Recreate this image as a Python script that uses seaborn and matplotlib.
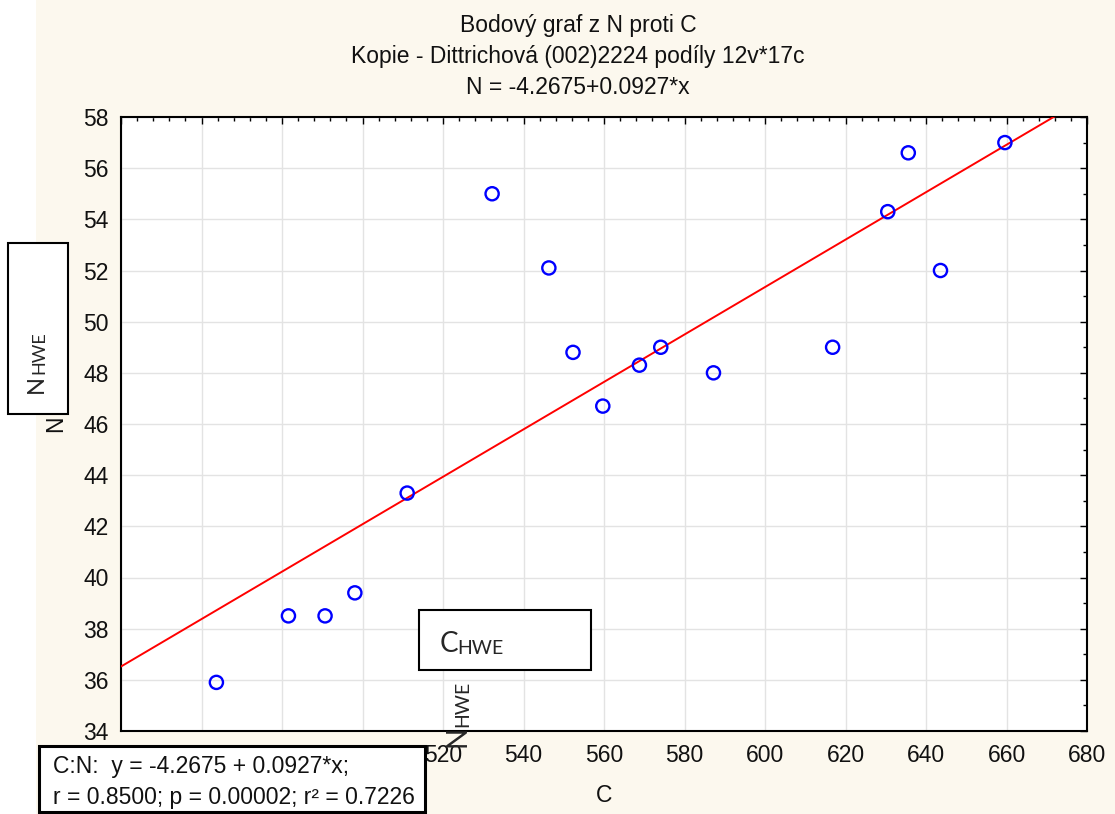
import numpy as np
import matplotlib.pyplot as plt
from matplotlib.patches import Rectangle
from matplotlib.ticker import MultipleLocator
import seaborn as sns

# ----------------------------------------------------------------------
# data (C vs N, 17 cases)
# ----------------------------------------------------------------------
c_vals = [463.7, 481.6, 490.7, 498.1, 511.1, 532.2, 546.3, 552.3, 559.7,
          568.8, 574.1, 587.2, 616.8, 630.5, 635.6, 643.6, 659.6]
n_vals = [35.9, 38.5, 38.5, 39.4, 43.3, 55.0, 52.1, 48.8, 46.7,
          48.3, 49.0, 48.0, 49.0, 54.3, 56.6, 52.0, 57.0]

intercept = -4.2675
slope = 0.0927

x_range = [440, 680]
y_range = [34, 58]
# x tick labels that sit completely under the stats box in the original
hidden_xlabels = [440, 460, 480, 500]

title_lines = ["Bodový graf z N proti C",
               "Kopie - Dittrichová (002)2224 podíly 12v*17c",
               "N = -4.2675+0.0927*x"]
stats_lines = ["C:N:  y = -4.2675 + 0.0927*x;",
               "r = 0.8500; p = 0.00002; r² = 0.7226"]

# ----------------------------------------------------------------------
# figure setup
# ----------------------------------------------------------------------
sns.set_theme(style="whitegrid")
plt.rcParams['font.family'] = ['Liberation Sans', 'DejaVu Sans']

W, H = 1115, 814
fig = plt.figure(figsize=(W / 100, H / 100), dpi=100, facecolor='white')


def fx(x):
    return x / W


def fy(y):
    return 1 - y / H


FS = 16.5
bg = '#FCF8EE'
fig.patches.append(Rectangle((fx(36), 0), 1 - fx(36), 1, transform=fig.transFigure,
                             facecolor=bg, edgecolor='none', zorder=-10))

ax = fig.add_axes([fx(121), fy(731), (1087 - 121) / W, (731 - 117) / H])
ax.set_facecolor('white')

sns.scatterplot(x=c_vals, y=n_vals, ax=ax, marker='o', s=90,
                fc='none', ec='#0000FF', linewidth=1.7, zorder=4)

x_line = np.array(x_range, dtype=float)
sns.lineplot(x=x_line, y=intercept + slope * x_line, ax=ax,
             color='#FF0000', linewidth=1.4, zorder=3)

ax.set_xlim(*x_range)
ax.set_ylim(*y_range)
ax.xaxis.set_major_locator(MultipleLocator(20))
ax.xaxis.set_minor_locator(MultipleLocator(4))
ax.yaxis.set_major_locator(MultipleLocator(2))
ax.yaxis.set_minor_locator(MultipleLocator(1))
ax.tick_params(which='both', direction='in', top=True, right=True,
               color='black', width=1)
ax.tick_params(which='major', length=5, labelsize=FS, labelcolor='#111111')
ax.tick_params(which='minor', length=3)
ax.tick_params(axis='x', pad=9)
ax.tick_params(axis='y', pad=9)
ax.tick_params(labeltop=False, labelright=False)
ax.grid(True, which='major', color='#E3E3E3', linewidth=1)
ax.grid(False, which='minor')
for sp in ax.spines.values():
    sp.set_color('black')
    sp.set_linewidth(1.5)

xt = ax.get_xticks()
ax.set_xticks(xt)
ax.set_xticklabels(["" if v in hidden_xlabels else f"{v:g}" for v in xt])
ax.set_xlim(*x_range)

ax.set_xlabel("C", fontsize=FS, color='#111111')
ax.set_ylabel("N", fontsize=FS, color='#111111')
ax.xaxis.set_label_coords(0.5, (731 - 796) / 614)
ax.xaxis.label.set_va('center')
ax.yaxis.set_label_coords((56 - 121) / 966, 0.5)
ax.yaxis.label.set(va='center', ha='center')

# titles
for txt, base in zip(title_lines, [32, 63, 94]):
    fig.text(fx(578), fy(base), txt, ha='center', va='baseline',
             fontsize=FS, color='#111111')

# ----------------------------------------------------------------------
# text boxes on top
# ----------------------------------------------------------------------
def box(x0, y0, x1, y1, lw):
    fig.patches.append(Rectangle((fx(x0), fy(y1)), (x1 - x0) / W, (y1 - y0) / H,
                                 transform=fig.transFigure, facecolor='white',
                                 edgecolor='black', linewidth=lw, zorder=5))


label_font = ['Lato', 'DejaVu Sans']

# N_HWE box on the left
box(8, 243, 68, 414, 1.5)
fig.text(fx(43), fy(393), "N", rotation=90, rotation_mode='anchor',
         ha='left', va='baseline', fontsize=17, family=label_font, zorder=6)
fig.text(fx(44), fy(374), "HWE", rotation=90, rotation_mode='anchor',
         ha='left', va='baseline', fontsize=13, family=label_font, zorder=6)

# C_HWE box
box(419, 610, 591, 670, 1.5)
fig.text(fx(440), fy(652), "C", ha='left', va='baseline', fontsize=20,
         family=label_font, zorder=6)
fig.text(fx(457), fy(654), "HWE", ha='left', va='baseline', fontsize=14,
         family=label_font, zorder=6)

# stray rotated N_HWE over the x axis
fig.text(fx(465), fy(747), "N", rotation=90, rotation_mode='anchor',
         ha='left', va='baseline', fontsize=20, family=label_font, zorder=6)
fig.text(fx(468), fy(727), "HWE", rotation=90, rotation_mode='anchor',
         ha='left', va='baseline', fontsize=14, family=label_font, zorder=6)

# regression stats box
box(39, 746, 425, 812, 2.2)
for txt, base in zip(stats_lines, [773, 804]):
    fig.text(fx(53), fy(base), txt, ha='left', va='baseline', fontsize=FS,
             color='#111111', zorder=6)

fig.savefig("out.png", dpi=100, facecolor=fig.get_facecolor())
